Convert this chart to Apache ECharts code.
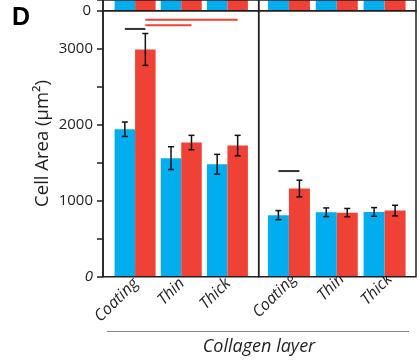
<!DOCTYPE html>
<html>
<head>
<meta charset="utf-8">
<script src="https://cdn.jsdelivr.net/npm/echarts@6/dist/echarts.min.js"></script>
<style>
html, body { margin: 0; padding: 0; background: #fff; }
#chart { width: 419px; height: 364px; }
</style>
</head>
<body>
<div id="chart"></div>
<script>
var categories = ['Coating', 'Thin', 'Thick'];

// left panel (mean, sd)
var leftBlue = [1940, 1560, 1480];
var leftBlueErr = [95, 150, 130];
var leftRed = [2990, 1765, 1725];
var leftRedErr = [210, 95, 135];

// right panel
var rightBlue = [810, 848, 852];
var rightBlueErr = [60, 57, 57];
var rightRed = [1160, 843, 870];
var rightRedErr = [110, 55, 70];

var yLabels = [0, 1000, 2000, 3000];

// significance bars: [from cat, from side, to cat, to side, value, colour]
var leftSig = [[0, -1, 0, 1, 3260, 'black'], [0, 1, 2, 1, 3380, 'red'], [0, 1, 1, 1, 3310, 'red']];
var rightSig = [[0, -1, 0, 1, 1390, 'black']];

// panel above is cut off: only the foot of its bars shows
var stripBlue = [100, 100, 100];
var stripRed = [100, 100, 100];

var BLUE = '#00aeef';
var RED = '#ef4136';
var INK = '#231f20';
var FONT = 'Open Sans';

var myChart = echarts.init(document.getElementById('chart'));

function errData(blue, blueErr, red, redErr) {
	var d = [];
	for (var i = 0; i < categories.length; i++) {
		d.push([i, blue[i], blueErr[i], -1]);
		d.push([i, red[i], redErr[i], 1]);
	}
	return d;
}

function errRender(barW) {
	return function(params, api) {
		var x = api.coord([api.value(0), 0])[0] + api.value(3) * barW / 2;
		var top = api.coord([api.value(0), api.value(1) + api.value(2)])[1];
		var bot = api.coord([api.value(0), api.value(1) - api.value(2)])[1];
		var st = { stroke: '#111', lineWidth: 1.5 };
		return {
			type: 'group',
			children: [
				{ type: 'line', shape: { x1: x, y1: top, x2: x, y2: bot }, style: st },
				{ type: 'line', shape: { x1: x - 3, y1: top, x2: x + 3, y2: top }, style: st },
				{ type: 'line', shape: { x1: x - 3, y1: bot, x2: x + 3, y2: bot }, style: st }
			]
		};
	};
}

var sigColors = {
	sigL: leftSig.map(function(s) { return s[5]; }),
	sigR: rightSig.map(function(s) { return s[5]; })
};

function sigRender(barW) {
	return function(params, api) {
		var x1 = api.coord([api.value(0), 0])[0] + api.value(1) * barW / 2;
		var x2 = api.coord([api.value(2), 0])[0] + api.value(3) * barW / 2;
		var y = api.coord([0, api.value(4)])[1];
		var c = sigColors[params.seriesName][params.dataIndex] === 'red' ? RED : '#333';
		return { type: 'line', shape: { x1: x1, y1: y, x2: x2, y2: y }, style: { stroke: c, lineWidth: 2 } };
	};
}

function hiddenX(grid) {
	return { type: 'category', gridIndex: grid, data: categories, show: false };
}
function hiddenY(grid, max) {
	return { type: 'value', gridIndex: grid, min: 0, max: max, show: false };
}
function catX(grid, shift) {
	return {
		type: 'category', gridIndex: grid, data: categories,
		axisLine: { show: false }, axisTick: { show: false },
		axisLabel: {
			rotate: 45, margin: 5, color: INK, fontSize: 16, fontStyle: 'italic', fontFamily: FONT,
			padding: [0, -shift, 0, 0]
		}
	};
}

var frame = { show: true, borderColor: INK, borderWidth: 1.5, backgroundColor: 'transparent', z: 5 };

var option = {
	animation: false,
	grid: [
		Object.assign({ left: 103, width: 155.7, top: 10.7, height: 266 }, frame),
		Object.assign({ left: 258.7, width: 157.3, top: 10.7, height: 266 }, frame),
		{ left: 112, width: 138.5, top: 10.7, height: 266 },
		{ left: 265, width: 143.5, top: 10.7, height: 266 },
		Object.assign({ left: 103, width: 155.7, top: -5, height: 15.7 }, frame),
		Object.assign({ left: 258.7, width: 157.3, top: -5, height: 15.7 }, frame),
		{ left: 112, width: 138.5, top: -5, height: 15.7 },
		{ left: 265, width: 143.5, top: -5, height: 15.7 }
	],
	xAxis: [hiddenX(0), hiddenX(1), catX(2, 1), catX(3, 7), hiddenX(4), hiddenX(5), hiddenX(6), hiddenX(7)],
	yAxis: [
		{
			type: 'value', gridIndex: 0, min: 0, max: 3500, interval: 500,
			axisLine: { show: true, lineStyle: { color: INK, width: 1.5 } },
			axisTick: { show: true, length: 6, lineStyle: { color: INK, width: 1.5 } },
			splitLine: { show: false },
			axisLabel: {
				margin: 10, color: INK, fontSize: 15, fontFamily: FONT,
				formatter: function(v) {
					if (v === 0) return '{i|0}';
					return yLabels.indexOf(v) >= 0 ? String(v) : '';
				},
				rich: { i: { fontStyle: 'italic', fontSize: 15, fontFamily: FONT, color: INK } }
			}
		},
		hiddenY(1, 3500), hiddenY(2, 3500), hiddenY(3, 3500),
		{
			type: 'value', gridIndex: 4, min: 0, max: 100, interval: 100,
			axisLine: { show: true, lineStyle: { color: INK, width: 1.5 } },
			axisTick: { show: true, length: 6, lineStyle: { color: INK, width: 1.5 } },
			splitLine: { show: false },
			axisLabel: {
				margin: 12, color: INK, fontSize: 15, fontFamily: FONT,
				formatter: function(v) { return v === 0 ? '0' : ''; }
			}
		},
		hiddenY(5, 100), hiddenY(6, 100), hiddenY(7, 100)
	],
	graphic: [
		{ type: 'text', x: 12, y: 6, style: { text: 'D', font: 'bold 25px Liberation Sans', fill: '#000', textVerticalAlign: 'top' } },
		{
			type: 'text', x: 43, y: 143.5, rotation: Math.PI / 2,
			style: { text: 'Cell Area (μm²)', font: '18.5px ' + FONT, fill: INK, textAlign: 'center', textVerticalAlign: 'middle' }
		},
		{ type: 'line', shape: { x1: 107, y1: 331.5, x2: 409, y2: 331.5 }, style: { stroke: '#888', lineWidth: 1 } },
		{
			type: 'text', x: 259, y: 347,
			style: { text: 'Collagen layer', font: 'italic 18px ' + FONT, fill: INK, textAlign: 'center', textVerticalAlign: 'middle' }
		}
	],
	series: [
		{ type: 'bar', xAxisIndex: 2, yAxisIndex: 2, data: leftBlue, barWidth: 20.5, barGap: '0%', itemStyle: { color: BLUE } },
		{ type: 'bar', xAxisIndex: 2, yAxisIndex: 2, data: leftRed, barWidth: 20.5, barGap: '0%', itemStyle: { color: RED } },
		{ type: 'bar', xAxisIndex: 3, yAxisIndex: 3, data: rightBlue, barWidth: 21, barGap: '0%', itemStyle: { color: BLUE } },
		{ type: 'bar', xAxisIndex: 3, yAxisIndex: 3, data: rightRed, barWidth: 21, barGap: '0%', itemStyle: { color: RED } },
		{ type: 'custom', xAxisIndex: 2, yAxisIndex: 2, z: 4, renderItem: errRender(20.5), data: errData(leftBlue, leftBlueErr, leftRed, leftRedErr) },
		{ type: 'custom', xAxisIndex: 3, yAxisIndex: 3, z: 4, renderItem: errRender(21), data: errData(rightBlue, rightBlueErr, rightRed, rightRedErr) },
		{ type: 'custom', name: 'sigL', xAxisIndex: 2, yAxisIndex: 2, z: 4, renderItem: sigRender(20.5), data: leftSig.map(function(s) { return s.slice(0, 5); }) },
		{ type: 'custom', name: 'sigR', xAxisIndex: 3, yAxisIndex: 3, z: 4, renderItem: sigRender(21), data: rightSig.map(function(s) { return s.slice(0, 5); }) },
		{ type: 'bar', xAxisIndex: 6, yAxisIndex: 6, data: stripBlue, barWidth: 20.5, barGap: '0%', itemStyle: { color: BLUE } },
		{ type: 'bar', xAxisIndex: 6, yAxisIndex: 6, data: stripRed, barWidth: 20.5, barGap: '0%', itemStyle: { color: RED } },
		{ type: 'bar', xAxisIndex: 7, yAxisIndex: 7, data: stripBlue, barWidth: 21, barGap: '0%', itemStyle: { color: BLUE } },
		{ type: 'bar', xAxisIndex: 7, yAxisIndex: 7, data: stripRed, barWidth: 21, barGap: '0%', itemStyle: { color: RED } }
	]
};
myChart.setOption(option);
</script>
</body>
</html>
